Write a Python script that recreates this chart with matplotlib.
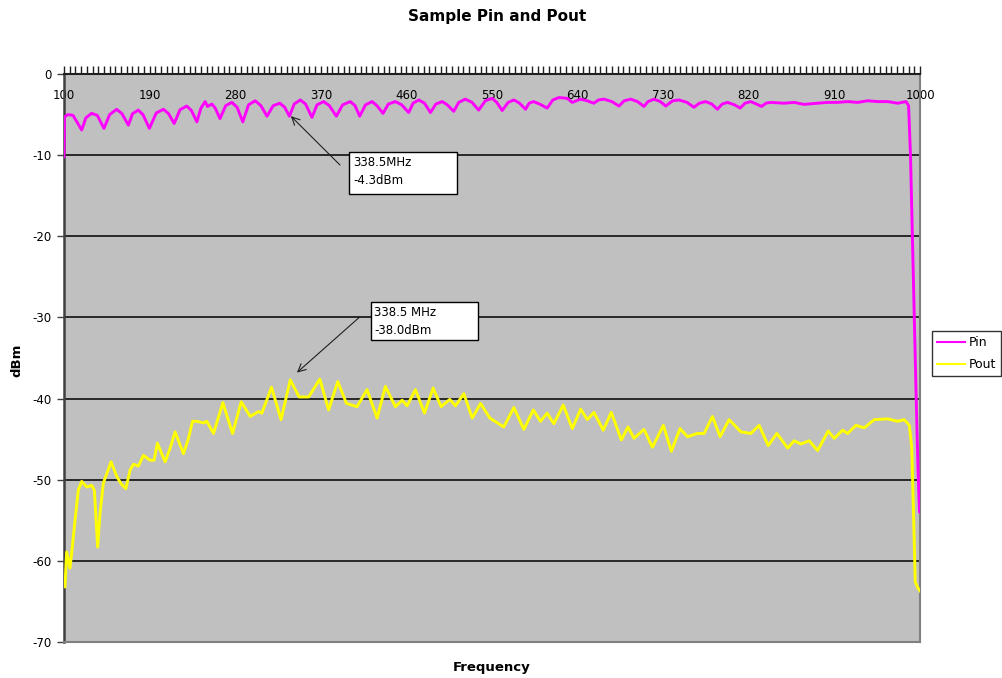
import matplotlib
matplotlib.use("Agg")
import matplotlib.pyplot as plt
from matplotlib.patches import Rectangle
import numpy as np

plt.rcParams['font.family'] = ['DejaVu Sans']

# ---------------- data ----------------
pin_freq = [100, 100.5, 104, 109.5, 114, 118.6, 123, 129, 135, 142, 148, 155.4, 161, 167.7,
            172, 178, 183, 189.8, 197, 204.6, 210, 215.8, 222, 229, 234, 239.7, 244, 248.4,
            251, 255.5, 259, 264, 270, 276.5, 282, 288, 294, 301, 307, 313.4, 320, 327, 332,
            337, 342, 348.4, 354, 360.7, 366, 373, 379, 386.3, 393, 401, 406, 410.9, 417,
            423.9, 429, 435.4, 441, 448.4, 455, 462.4, 467, 473, 479, 485.3, 491, 497.6, 503,
            509.8, 515, 522, 529, 536, 543, 550.2, 555, 560.7, 567, 573, 579, 585.3, 589,
            593.7, 600, 608, 614, 620.3, 629, 634.4, 643, 650, 657, 662, 667.7, 676, 683.5,
            689, 695.8, 703, 709.8, 714, 720.3, 727, 732.6, 740, 746.6, 755, 762.4, 768,
            774.7, 781, 787, 792, 797.6, 805, 810.9, 816, 822, 828, 833.4, 838, 843, 857, 868,
            878, 892, 903, 913, 924, 934.4, 945, 955.5, 966, 976.5, 985.3, 988, 990, 992, 994,
            996, 998, 999.5, 1000]
pin_dbm = [-10.2, -5.3, -5.0, -5.1, -6.0, -6.9, -5.4, -4.85, -5.1, -6.7, -5.0, -4.35, -4.9, -6.3,
           -4.9, -4.45, -5.0, -6.7, -4.8, -4.35, -4.9, -6.1, -4.4, -3.95, -4.5, -5.9, -4.2, -3.4,
           -4.0, -3.7, -4.2, -5.5, -3.9, -3.5, -4.1, -5.9, -3.8, -3.3, -3.9, -5.2, -3.9, -3.6, -4.1,
           -5.2, -3.7, -3.2, -3.7, -5.35, -3.8, -3.4, -3.9, -5.2, -3.8, -3.4, -3.9, -5.2, -3.8,
           -3.4, -3.9, -4.85, -3.7, -3.4, -3.8, -4.75, -3.6, -3.2, -3.6, -4.75, -3.7, -3.4, -3.8,
           -4.6, -3.5, -3.1, -3.5, -4.45, -3.3, -3.0, -3.5, -4.5, -3.5, -3.2, -3.6, -4.35, -3.6,
           -3.4, -3.7, -4.2, -3.2, -2.9, -3.0, -3.5, -3.1, -3.3, -3.6, -3.2, -3.1, -3.4, -3.95,
           -3.3, -3.1, -3.4, -4.0, -3.4, -3.1, -3.4, -3.95, -3.3, -3.2, -3.5, -4.1, -3.6,
           -3.4, -3.7, -4.35, -3.7, -3.5, -3.8, -4.2, -3.6, -3.4, -3.7, -4.0, -3.6, -3.5, -3.6, -3.5,
           -3.75, -3.6, -3.5, -3.5, -3.4, -3.5, -3.3, -3.4, -3.4, -3.6, -3.4, -3.9, -10, -20, -30,
           -40, -49, -54, -53.6]

pout_freq = [101, 102.8, 106.3, 108, 111.6, 115, 118.6, 123.9, 129.1, 131.9, 135.4, 137.9, 141.4,
             149.5, 155.5, 160, 165, 169.5, 173, 178.3, 183.5, 190.5, 194.7, 198.2, 206.3, 211.6,
             216.8, 225.6, 230.9, 235.1, 239.7, 246.6, 250.2, 257.2, 267, 277.2, 286.3, 295.8,
             304.5, 308, 318.2, 328.2, 337.9, 347.2, 357.2, 369, 378.2, 387.8, 397, 408.1, 418.6,
             429.2, 437.9, 448.4, 455.5, 460.7, 469.5, 479, 488.1, 496.5, 505.6, 511.6, 520.4,
             529.2, 538, 547.7, 562.4, 573, 583.5, 593.4, 601, 608, 615, 624.9, 634.4, 643.2,
             650.2, 657.2, 667, 675.4, 686, 693, 699.3, 709.8, 718.6, 730.2, 738.6, 747.7, 755.5,
             766, 773, 781.8, 789.8, 799.3, 811.6, 822.1, 830.9, 840.4, 849.5, 860.8, 867.7, 874.7,
             883.5, 892.3, 903.5, 909.8, 918.6, 923.9, 932.6, 941.4, 951.9, 966, 976.5, 983.5,
             988.8, 991.3, 993.4, 995, 997.6, 1000]
pout_dbm = [-63.2, -58.9, -60.9, -59.1, -55, -51.3, -50.2, -50.9, -50.7, -51.3, -58.3, -54.1, -50.4,
            -47.8, -49.6, -50.5, -51.1, -48.8, -48.1, -48.3, -47.0, -47.6, -47.6, -45.5, -47.8, -46.1,
            -44.1, -46.8, -44.9, -42.8, -42.8, -43.0, -42.8, -44.3, -40.5, -44.3, -40.4, -42.2,
            -41.6, -41.8, -38.6, -42.6, -37.7, -39.8, -39.8, -37.6, -41.4, -37.9, -40.6, -41.0, -38.9,
            -42.4, -38.5, -41.0, -40.2, -40.9, -38.9, -41.8, -38.7, -41.0, -40.1, -40.9, -39.4,
            -42.4, -40.6, -42.4, -43.5, -41.1, -43.8, -41.4, -42.8, -41.8, -43.1, -40.8, -43.7, -41.3,
            -42.6, -41.7, -43.9, -41.7, -45.1, -43.5, -44.9, -43.8, -46.0, -43.3, -46.5, -43.7, -44.7,
            -44.3, -44.3, -42.2, -44.7, -42.6, -44.1, -44.3, -43.3, -45.8, -44.3, -46.1, -45.2, -45.6,
            -45.2, -46.4, -44.0, -44.9, -43.9, -44.3, -43.3, -43.6, -42.6, -42.5, -42.8, -42.6,
            -43.3, -46, -55, -62.6, -63.3, -63.7]

x_major = list(range(100, 1001, 90))
y_major = list(range(-70, 1, 10))
title = "Sample Pin and Pout"
xlabel = "Frequency"
ylabel = "dBm"
series_names = ["Pin", "Pout"]
ann_texts = ["338.5MHz\n-4.3dBm", "338.5 MHz\n-38.0dBm"]
ann_heads = [(338.6, -5.2), (344.9, -36.8)]

# ---------------- layout (pixels) ----------------
W, H = 1002, 678
AX_L, AX_R, AX_T, AX_B = 64, 920, 74, 642


def px2data(px, py):
    return (100 + (px - AX_L) * 900 / (AX_R - AX_L), -(py - AX_T) * 70 / (AX_B - AX_T))


fig = plt.figure(figsize=(W / 100, H / 100), dpi=100)
fig.patch.set_facecolor('white')
ax = fig.add_axes([AX_L / W, 1 - AX_B / H, (AX_R - AX_L) / W, (AX_B - AX_T) / H])
ax.set_facecolor('#C0C0C0')

ax.set_xlim(100, 1000)
ax.set_ylim(-70, 0)

for yv in y_major[1:-1]:
    ax.axhline(yv, color='black', lw=1.1, zorder=1)

ln1, = ax.plot(pin_freq, pin_dbm, color='#FF00FF', lw=2.1, zorder=3, label=series_names[0])
ln2, = ax.plot(pout_freq, pout_dbm, color='#FFFF00', lw=2.1, zorder=3, label=series_names[1])

# axes / spines
ax.spines['top'].set_color('#202020')
ax.spines['top'].set_linewidth(1.5)
ax.spines['left'].set_color('#404040')
ax.spines['left'].set_linewidth(1.8)
ax.spines['right'].set_color('#808080')
ax.spines['right'].set_linewidth(1.5)
ax.spines['bottom'].set_color('#808080')
ax.spines['bottom'].set_linewidth(1.5)

ax.xaxis.tick_top()
ax.set_xticks(x_major)
ax.set_xticklabels([str(v) for v in x_major])
ax.set_xticks(np.arange(100, 1001, 6), minor=True)
ax.tick_params(axis='x', which='both', top=True, bottom=False, direction='out',
               length=5.5, width=1, color='#202020')
ax.tick_params(axis='x', which='major', labeltop=True, labelbottom=False,
               pad=-26, labelsize=8.5)

ax.set_yticks(y_major)
ax.set_yticklabels([str(v) for v in y_major])
ax.tick_params(axis='y', which='major', direction='out', length=5, width=1,
               color='#404040', labelsize=8.5, pad=4)

# labels
fig.text(497 / W, 1 - 16 / H, title, ha='center', va='center', fontsize=11, fontweight='bold')
fig.text(492 / W, 1 - 668 / H, xlabel, ha='center', va='center', fontsize=9.5, fontweight='bold')
fig.text(17 / W, 1 - 360 / H, ylabel, ha='center', va='center', fontsize=9.5,
         fontweight='bold', rotation=90)

# annotations: (tail px, box px l,t,r,b, text left px, text center y px)
ann_layout = [((340, 165), (349, 152, 457, 194), (353, 171.5)),
              ((360, 316.7), (371, 302, 478, 340), (374, 321.5))]
for txt, head, (tail_px, box_px, txt_px) in zip(ann_texts, ann_heads, ann_layout):
    tail = px2data(*tail_px)
    ax.annotate('', xy=head, xytext=tail,
                arrowprops=dict(arrowstyle='->', color='#202020', lw=0.8,
                                shrinkA=0, shrinkB=0, mutation_scale=14), zorder=4)
    x0, y0 = px2data(box_px[0], box_px[3])
    x1, y1 = px2data(box_px[2], box_px[1])
    ax.add_patch(Rectangle((x0, y0), x1 - x0, y1 - y0, facecolor='white',
                           edgecolor='black', lw=1, zorder=5))
    tx, ty = px2data(*txt_px)
    ax.text(tx, ty, txt, ha='left', va='center', fontsize=8.5, linespacing=1.4, zorder=6)

# legend
leg = fig.legend(handles=[ln1, ln2], labels=series_names, loc='upper left',
                 bbox_to_anchor=(932 / W, 1 - 331 / H), frameon=True, fancybox=False,
                 edgecolor='black', fontsize=9, handlelength=2.2, handletextpad=0.35,
                 borderpad=0.4, labelspacing=0.75, borderaxespad=0)
leg.get_frame().set_linewidth(1)
for l in leg.get_lines():
    l.set_linewidth(1.5)

fig.savefig('out.png', dpi=100)
